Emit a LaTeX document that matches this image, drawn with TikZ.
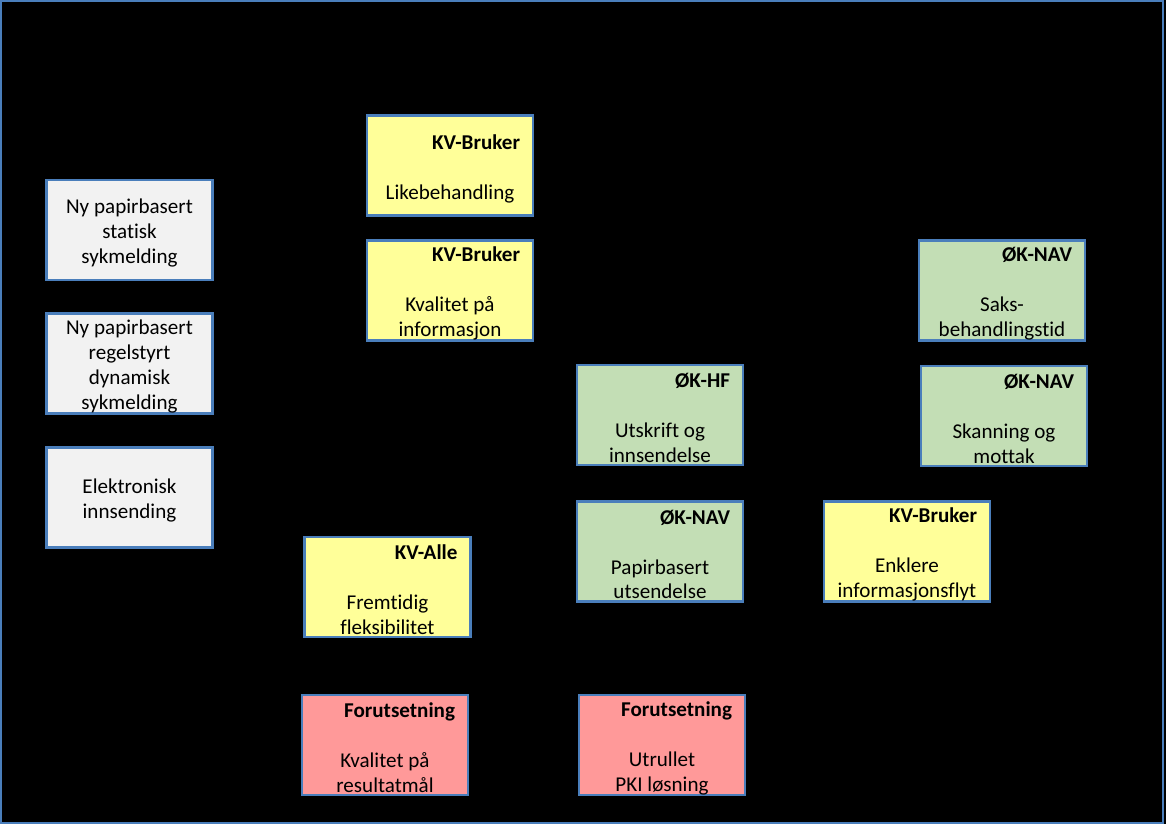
\documentclass[tikz,border=0pt]{standalone}
\usepackage{fontspec}
\setmainfont[Ligatures=NoCommon]{Carlito}
\usepackage{tikz}

\definecolor{frameblue}{RGB}{74,126,187}
\definecolor{boxgray}{RGB}{242,242,242}
\definecolor{boxyellow}{RGB}{255,255,153}
\definecolor{boxgreen}{RGB}{195,222,181}
\definecolor{boxred}{RGB}{255,153,153}

\tikzset{
    goal/.style={draw=frameblue, line width=1.4pt, minimum width=3.32cm,
        minimum height=2cm, inner sep=0pt, text width=2.8cm, align=center,
        font=\fontsize{12}{14.2}\selectfont,
        execute at begin node={\spaceskip=0.23em\relax},
        execute at end node={\par\vspace*{-3.4pt}}},
    tiltak/.style={goal, fill=boxgray},
    kv/.style={goal, fill=boxyellow},
    ok/.style={goal, fill=boxgreen},
    forut/.style={goal, fill=boxred}
}
\newcommand{\hdr}[1]{\hfill\textbf{#1}\\[\baselineskip]}

\begin{document}
\begin{tikzpicture}[x=0.02cm, y=-0.02cm]

    % Background and frame
    \fill[black] (0,0) rectangle (1166,824);
    \useasboundingbox (0,0) rectangle (1166,824);
    \draw[frameblue, line width=1.13pt] (1,1) rectangle (1163,823);

    % Tiltak
    \node[tiltak] (statisk) at (129.5,230) {Ny papirbasert\\statisk\\sykmelding};
    \node[tiltak] (dynamisk) at (129.5,363.5) {Ny papirbasert\\regelstyrt\\dynamisk\\sykmelding};
    \node[tiltak] (elektronisk) at (129.5,497.5) {Elektronisk\\innsending};

    % Kvalitative gevinster
    \node[kv] (likebeh) at (450,165.5) {\hdr{KV-Bruker}Likebehandling};
    \node[kv] (kvalinfo) at (450,290.5) {\hdr{KV-Bruker}Kvalitet på\\informasjon};
    \node[kv] (enklere) at (907,551.5) {\hdr{KV-Bruker}Enklere\\informasjonsflyt};
    \node[kv] (fleksib) at (387.5,587) {\hdr{KV-Alle}Fremtidig\\fleksibilitet};

    % Økonomiske gevinster
    \node[ok] (utskrift) at (660,415) {\hdr{ØK-HF}Utskrift og\\innsendelse};
    \node[ok] (utsendelse) at (660,551.5) {\hdr{ØK-NAV}Papirbasert\\utsendelse};
    \node[ok] (saksbeh) at (1002,290.5) {\hdr{ØK-NAV}Saks-\\behandlingstid};
    \node[ok] (skanning) at (1004,416) {\hdr{ØK-NAV}Skanning og\\mottak};

    % Forutsetninger
    \node[forut] (resmaal) at (385,745) {\hdr{Forutsetning}Kvalitet på\\resultatmål};
    \node[forut] (pki) at (662,745) {\hdr{Forutsetning}Utrullet\\PKI løsning};

\end{tikzpicture}
\end{document}
